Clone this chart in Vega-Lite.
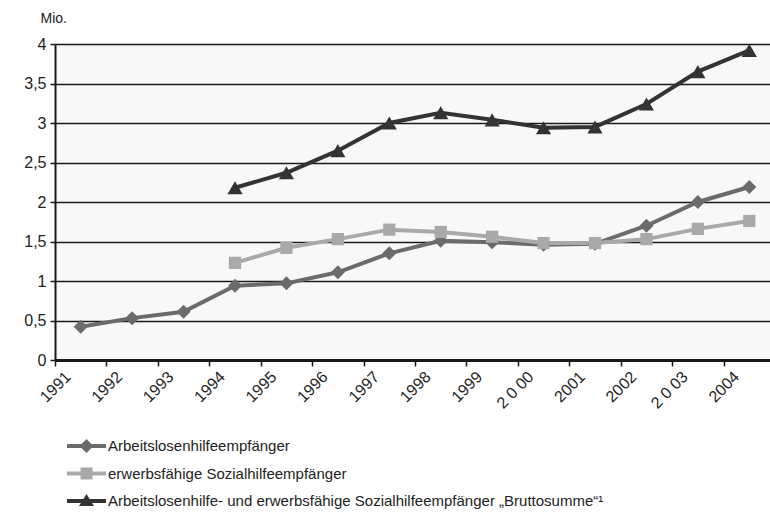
{
  "$schema": "https://vega.github.io/schema/vega-lite/v6.json",
  "width": 720,
  "height": 316,
  "autosize": {"type": "none"},
  "padding": {"left": 55, "top": 44, "right": 0, "bottom": 152},
  "background": "white",
  "config": {
    "font": "Liberation Sans",
    "view": {"fill": "#f8f8f8", "stroke": null}
  },
  "data": {
    "values": [
      {"year": "1991", "series": "Arbeitslosenhilfeempfänger", "value": 0.42},
      {"year": "1992", "series": "Arbeitslosenhilfeempfänger", "value": 0.53},
      {"year": "1993", "series": "Arbeitslosenhilfeempfänger", "value": 0.61},
      {"year": "1994", "series": "Arbeitslosenhilfeempfänger", "value": 0.94},
      {"year": "1995", "series": "Arbeitslosenhilfeempfänger", "value": 0.97},
      {"year": "1996", "series": "Arbeitslosenhilfeempfänger", "value": 1.11},
      {"year": "1997", "series": "Arbeitslosenhilfeempfänger", "value": 1.35},
      {"year": "1998", "series": "Arbeitslosenhilfeempfänger", "value": 1.51},
      {"year": "1999", "series": "Arbeitslosenhilfeempfänger", "value": 1.49},
      {"year": "2000", "series": "Arbeitslosenhilfeempfänger", "value": 1.46},
      {"year": "2001", "series": "Arbeitslosenhilfeempfänger", "value": 1.47},
      {"year": "2002", "series": "Arbeitslosenhilfeempfänger", "value": 1.70},
      {"year": "2003", "series": "Arbeitslosenhilfeempfänger", "value": 2.00},
      {"year": "2004", "series": "Arbeitslosenhilfeempfänger", "value": 2.19},
      {"year": "1994", "series": "erwerbsfähige Sozialhilfeempfänger", "value": 1.23},
      {"year": "1995", "series": "erwerbsfähige Sozialhilfeempfänger", "value": 1.42},
      {"year": "1996", "series": "erwerbsfähige Sozialhilfeempfänger", "value": 1.53},
      {"year": "1997", "series": "erwerbsfähige Sozialhilfeempfänger", "value": 1.65},
      {"year": "1998", "series": "erwerbsfähige Sozialhilfeempfänger", "value": 1.62},
      {"year": "1999", "series": "erwerbsfähige Sozialhilfeempfänger", "value": 1.56},
      {"year": "2000", "series": "erwerbsfähige Sozialhilfeempfänger", "value": 1.48},
      {"year": "2001", "series": "erwerbsfähige Sozialhilfeempfänger", "value": 1.48},
      {"year": "2002", "series": "erwerbsfähige Sozialhilfeempfänger", "value": 1.53},
      {"year": "2003", "series": "erwerbsfähige Sozialhilfeempfänger", "value": 1.66},
      {"year": "2004", "series": "erwerbsfähige Sozialhilfeempfänger", "value": 1.76},
      {"year": "1994", "series": "Arbeitslosenhilfe- und erwerbsfähige Sozialhilfeempfänger „Bruttosumme“¹", "value": 2.18},
      {"year": "1995", "series": "Arbeitslosenhilfe- und erwerbsfähige Sozialhilfeempfänger „Bruttosumme“¹", "value": 2.37},
      {"year": "1996", "series": "Arbeitslosenhilfe- und erwerbsfähige Sozialhilfeempfänger „Bruttosumme“¹", "value": 2.65},
      {"year": "1997", "series": "Arbeitslosenhilfe- und erwerbsfähige Sozialhilfeempfänger „Bruttosumme“¹", "value": 3.00},
      {"year": "1998", "series": "Arbeitslosenhilfe- und erwerbsfähige Sozialhilfeempfänger „Bruttosumme“¹", "value": 3.13},
      {"year": "1999", "series": "Arbeitslosenhilfe- und erwerbsfähige Sozialhilfeempfänger „Bruttosumme“¹", "value": 3.04},
      {"year": "2000", "series": "Arbeitslosenhilfe- und erwerbsfähige Sozialhilfeempfänger „Bruttosumme“¹", "value": 2.94},
      {"year": "2001", "series": "Arbeitslosenhilfe- und erwerbsfähige Sozialhilfeempfänger „Bruttosumme“¹", "value": 2.95},
      {"year": "2002", "series": "Arbeitslosenhilfe- und erwerbsfähige Sozialhilfeempfänger „Bruttosumme“¹", "value": 3.24},
      {"year": "2003", "series": "Arbeitslosenhilfe- und erwerbsfähige Sozialhilfeempfänger „Bruttosumme“¹", "value": 3.65},
      {"year": "2004", "series": "Arbeitslosenhilfe- und erwerbsfähige Sozialhilfeempfänger „Bruttosumme“¹", "value": 3.92}
    ]
  },
  "encoding": {
    "x": {
      "field": "year",
      "type": "ordinal",
      "scale": {"type": "band", "paddingInner": 0, "paddingOuter": 0},
      "axis": {
        "title": null,
        "tickBand": "extent",
        "labelAngle": -45,
        "labelAlign": "right",
        "labelBaseline": "middle",
        "labelOffset": -13,
        "labelPadding": 8,
        "labelFontSize": 16,
        "labelColor": "#222222",
        "labelExpr": "datum.value == '2000' ? '2 0 00' : datum.value == '2003' ? '2 0 03' : datum.value",
        "domainColor": "#1a1a1a",
        "domainWidth": 3,
        "tickColor": "#1a1a1a",
        "tickWidth": 1.5,
        "tickSize": 6,
        "grid": false
      }
    },
    "y": {
      "field": "value",
      "type": "quantitative",
      "scale": {"domain": [0, 4]},
      "axis": {
        "values": [0, 0.5, 1, 1.5, 2, 2.5, 3, 3.5, 4],
        "labelExpr": "replace(format(datum.value, '.1~f'), '.', ',')",
        "labelFontSize": 16,
        "labelColor": "#222222",
        "labelPadding": 4,
        "domainColor": "#1a1a1a",
        "domainWidth": 2,
        "tickColor": "#1a1a1a",
        "tickWidth": 1.5,
        "tickSize": 5,
        "grid": true,
        "gridColor": "#1a1a1a",
        "gridWidth": 1.4,
        "title": "Mio.",
        "titleAngle": 0,
        "titleAlign": "left",
        "titleBaseline": "alphabetic",
        "titleFontWeight": "normal",
        "titleFontSize": 14,
        "titleColor": "#222222",
        "titleX": -15,
        "titleY": -22
      }
    }
  },
  "layer": [
    {
      "mark": {"type": "line", "strokeWidth": 4},
      "encoding": {
        "color": {
          "field": "series",
          "type": "nominal",
          "scale": {
            "domain": ["Arbeitslosenhilfeempfänger", "erwerbsfähige Sozialhilfeempfänger", "Arbeitslosenhilfe- und erwerbsfähige Sozialhilfeempfänger „Bruttosumme“¹"],
            "range": ["#6b6b6b", "#a9a9a9", "#333333"]
          }
        }
      }
    },
    {
      "transform": [{"filter": "false"}],
      "mark": {"type": "point", "filled": true, "opacity": 1, "strokeWidth": 0},
      "encoding": {
        "color": {
          "field": "series",
          "type": "nominal",
          "scale": {
            "domain": ["Arbeitslosenhilfeempfänger", "erwerbsfähige Sozialhilfeempfänger", "Arbeitslosenhilfe- und erwerbsfähige Sozialhilfeempfänger „Bruttosumme“¹"],
            "range": ["#6b6b6b", "#a9a9a9", "#333333"]
          },
          "legend": {
            "title": null,
            "orient": "none",
            "legendX": 21.5,
            "legendY": 392,
            "padding": 0,
            "rowPadding": 9.5,
            "symbolSize": 400,
            "symbolStrokeWidth": 0,
            "labelFontSize": 15,
            "labelColor": "#222222",
            "labelOffset": 11.5,
            "labelLimit": 700
          }
        },
        "shape": {
          "field": "series",
          "type": "nominal",
          "scale": {
            "domain": ["Arbeitslosenhilfeempfänger", "erwerbsfähige Sozialhilfeempfänger", "Arbeitslosenhilfe- und erwerbsfähige Sozialhilfeempfänger „Bruttosumme“¹"],
            "range": [
              "M-1.95,-0.2H-0.5L0,-0.7L0.5,-0.2H1.95V0.2H0.5L0,0.7L-0.5,0.2H-1.95Z",
              "M-1.95,-0.2H-0.6V-0.6H0.6V-0.2H1.95V0.2H0.6V0.6H-0.6V0.2H-1.95Z",
              "M-1.95,-0.2H-0.3125L0,-0.7L0.3125,-0.2H1.95V0.2H0.5625L0.75,0.5H-0.75L-0.5625,0.2H-1.95Z"
            ]
          },
          "legend": {
            "title": null,
            "orient": "none",
            "legendX": 21.5,
            "legendY": 392,
            "padding": 0,
            "rowPadding": 9.5,
            "symbolSize": 400,
            "symbolStrokeWidth": 0,
            "labelFontSize": 15,
            "labelColor": "#222222",
            "labelOffset": 11.5,
            "labelLimit": 700
          }
        }
      }
    },
    {
      "transform": [{"filter": "datum.series == 'Arbeitslosenhilfeempfänger'"}],
      "mark": {"type": "point", "filled": true, "opacity": 1, "strokeWidth": 0, "shape": "diamond", "size": 196, "color": "#6b6b6b"},
      "encoding": {}
    },
    {
      "transform": [{"filter": "datum.series == 'erwerbsfähige Sozialhilfeempfänger'"}],
      "mark": {"type": "point", "filled": true, "opacity": 1, "strokeWidth": 0, "shape": "square", "size": 150, "color": "#a9a9a9"},
      "encoding": {}
    },
    {
      "transform": [{"filter": "datum.series == 'Arbeitslosenhilfe- und erwerbsfähige Sozialhilfeempfänger „Bruttosumme“¹'"}],
      "mark": {"type": "point", "filled": true, "opacity": 1, "strokeWidth": 0, "shape": "triangle-up", "size": 230, "color": "#333333"},
      "encoding": {}
    }
  ]
}
